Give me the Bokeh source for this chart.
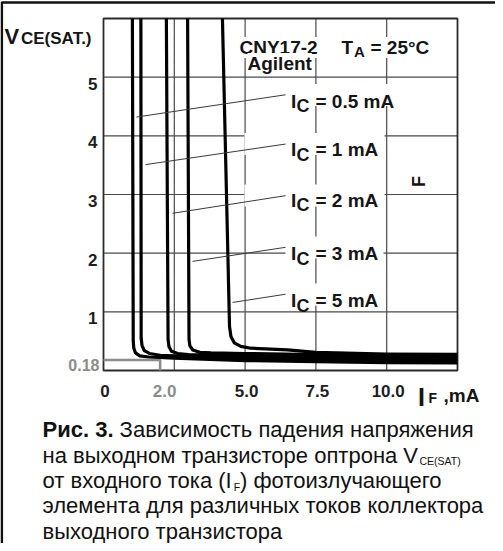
import glob
import struct
import math
from bokeh.plotting import figure
from bokeh.models import Range1d, Label
from bokeh.core.properties import value
from bokeh.embed import file_html
from bokeh.resources import INLINE

# ---------------- data ----------------
ic_labels = ["0.5", "1", "2", "3", "5"]          # collector current, mA

if_c05 = [1.02, 1.05, 1.07, 1.13, 1.28, 1.60, 2.50, 5.00, 7.50, 10.0, 12.5]
v_c05 = [6.00, 0.50, 0.38, 0.30, 0.25, 0.23, 0.21, 0.17, 0.15, 0.135, 0.13]

if_c1 = [1.32, 1.33, 1.36, 1.44, 1.62, 2.00, 3.00, 5.00, 7.50, 10.0, 12.5]
v_c1 = [6.00, 0.55, 0.43, 0.34, 0.29, 0.26, 0.24, 0.21, 0.19, 0.17, 0.165]

if_c2 = [2.22, 2.28, 2.31, 2.40, 2.62, 3.00, 5.00, 7.50, 10.0, 12.5]
v_c2 = [6.00, 0.53, 0.41, 0.33, 0.29, 0.27, 0.25, 0.23, 0.21, 0.20]

if_c3 = [2.97, 3.02, 3.05, 3.15, 3.40, 3.80, 5.00, 7.50, 10.0, 12.5]
v_c3 = [6.00, 0.53, 0.42, 0.35, 0.31, 0.30, 0.29, 0.27, 0.25, 0.24]

if_c5 = [4.20, 4.45, 4.50, 4.62, 4.85, 5.20, 6.50, 7.50, 10.0, 12.5]
v_c5 = [6.00, 0.75, 0.58, 0.47, 0.41, 0.38, 0.35, 0.31, 0.28, 0.275]

# leader lines: point on curve -> label anchor
leader_if0 = [1.165, 1.49, 2.44, 3.14, 4.555]
leader_v0 = [4.32, 3.51, 2.68, 1.86, 1.16]
leader_if1 = [6.43, 6.43, 6.43, 6.43, 6.43]
leader_v1 = [4.70, 3.86, 2.98, 2.10, 1.30]

x_min, x_max = 0.0, 12.5
y_min, y_max = 0.0, 6.0
y_tick_vals = [1, 2, 3, 4, 5]
y_tick_text = ["1", "2", "3", "4", "5"]
x_tick_vals = [0, 5, 7.5, 10]
x_tick_text = ["0", "5.0", "7.5", "10.0"]
x_grid_vals = [2.5, 5, 7.5, 10]
y_grid_vals = [1, 2, 3, 4, 5]

sat_v = 0.18          # marked saturation voltage
sat_if = 2.0          # marked forward current
sat_v_text = "0.18"
sat_if_text = "2.0"

caption = [
    [("Рис. 3.", "b"), (" Зависимость падения напряжения", "r")],
    [("на выходном транзисторе оптрона V", "r"), ("CE(SAT)", "s")],
    [("от входного тока (I", "r"), ("F", "s"), (") фотоизлучающего", "r")],
    [("элемента для различных токов коллектора", "r")],
    [("выходного транзистора", "r")],
]

# ---------------- text metrics (Liberation Sans) ----------------
def make_width_fn(patterns):
    path = None
    for pat in patterns:
        found = glob.glob(pat, recursive=True)
        if found:
            path = found[0]
            break
    if path is None:
        return lambda s, size: 0.56 * size * len(s)
    try:
        data = open(path, "rb").read()
        ntab = struct.unpack(">H", data[4:6])[0]
        tabs = {}
        for i in range(ntab):
            tag, cs, off, ln = struct.unpack(">4sIII", data[12 + 16 * i:28 + 16 * i])
            tabs[tag.decode("latin1")] = off
        head = tabs["head"]
        upem = struct.unpack(">H", data[head + 18:head + 20])[0]
        hhea = tabs["hhea"]
        nhm = struct.unpack(">H", data[hhea + 34:hhea + 36])[0]
        hm = tabs["hmtx"]
        adv = [struct.unpack(">H", data[hm + 4 * i:hm + 4 * i + 2])[0] for i in range(nhm)]
        cm = tabs["cmap"]
        n = struct.unpack(">H", data[cm + 2:cm + 4])[0]
        sub = None
        for i in range(n):
            pid, eid, off = struct.unpack(">HHI", data[cm + 4 + 8 * i:cm + 12 + 8 * i])
            fmt = struct.unpack(">H", data[cm + off:cm + off + 2])[0]
            if fmt == 4 and pid in (0, 3):
                sub = cm + off
                break
        segx2 = struct.unpack(">H", data[sub + 6:sub + 8])[0]
        seg = segx2 // 2
        ends = struct.unpack(">%dH" % seg, data[sub + 14:sub + 14 + segx2])
        starts = struct.unpack(">%dH" % seg, data[sub + 16 + segx2:sub + 16 + 2 * segx2])
        deltas = struct.unpack(">%dh" % seg, data[sub + 16 + 2 * segx2:sub + 16 + 3 * segx2])
        rpos = sub + 16 + 3 * segx2
        roffs = struct.unpack(">%dH" % seg, data[rpos:rpos + segx2])

        def gid(c):
            for i in range(seg):
                if ends[i] >= c:
                    if starts[i] > c:
                        return 0
                    if roffs[i] == 0:
                        return (c + deltas[i]) & 0xFFFF
                    addr = rpos + 2 * i + roffs[i] + 2 * (c - starts[i])
                    g = struct.unpack(">H", data[addr:addr + 2])[0]
                    return (g + deltas[i]) & 0xFFFF if g else 0
            return 0

        def width(s, size):
            tot = 0
            for ch in s:
                g = gid(ord(ch))
                tot += adv[min(g, nhm - 1)]
            return tot * size / upem
        return width
    except Exception:
        return lambda s, size: 0.56 * size * len(s)


w_reg = make_width_fn(["/usr/share/fonts/**/LiberationSans-Regular.ttf"])
w_bold = make_width_fn(["/usr/share/fonts/**/LiberationSans-Bold.ttf"])

# ---------------- layout (window pixels -> data) ----------------
OFF = 8                                    # page margin
W, H = 495, 543
X0, SX = 111.0, 354.0 / (x_max - x_min)    # window px of x=0, px per unit
Y0, SY = 378.0, 352.0 / (y_max - y_min)

def dx(wx):
    return (wx - X0) / SX

def dy(wy):
    return (Y0 - wy) / SY

FONT = "Liberation Sans"

p = figure(width=W, height=H,
           x_range=Range1d(dx(OFF), dx(OFF + W)), y_range=Range1d(dy(OFF + H), dy(OFF)),
           x_axis_type=None, y_axis_type=None, title=None,
           output_backend="svg", toolbar_location=None, min_border=0)
p.background_fill_color = "white"
p.border_fill_color = "white"
p.outline_line_color = None

# grid
GRID = "#4a4a4a"
p.segment(x0=x_grid_vals, y0=[y_min] * len(x_grid_vals), x1=x_grid_vals, y1=[y_max] * len(x_grid_vals),
          line_color=GRID, line_width=1.2)
p.segment(x0=[x_min] * len(y_grid_vals), y0=y_grid_vals, x1=[x_max] * len(y_grid_vals), y1=y_grid_vals,
          line_color=GRID, line_width=1.2)

# white masks behind the current labels (they cut the grid lines)
row_wy = [102.5, 151.5, 203.0, 255.0, 302.0]
mask_left_px = [293, 252, 252, 293, 293]
mask_right_px = [406, 392, 392, 391, 391]
p.quad(left=[dx(v) for v in mask_left_px], right=[dx(v) for v in mask_right_px],
       top=[dy(v - 11) for v in row_wy], bottom=[dy(v + 11) for v in row_wy],
       fill_color="white", line_color=None)

# plot frame
p.quad(left=[x_min], right=[x_max], bottom=[y_min], top=[y_max],
       fill_color=None, line_color="#2b2b2b", line_width=1.8)

# grey marker of the 0.18 V / 2.0 mA point
p.line([x_min, sat_if, sat_if], [sat_v, sat_v, y_min], line_color="#8c8c8c", line_width=2.6)

# curves
for xs, ys in [(if_c05, v_c05), (if_c1, v_c1), (if_c2, v_c2), (if_c3, v_c3), (if_c5, v_c5)]:
    p.line(xs, ys, line_color="black", line_width=3.2, line_join="round")

# leader lines
p.segment(x0=leader_if0, y0=leader_v0, x1=leader_if1, y1=leader_v1,
          line_color="#3a3a3a", line_width=1.0)

# tick labels
p.text(x=[x_min] * len(y_tick_vals), y=y_tick_vals, text=y_tick_text,
       x_offset=-6, y_offset=6.5, text_align="right", text_baseline="alphabetic",
       text_font=value(FONT), text_font_style="bold", text_font_size="17px",
       text_color="#1e1e1e")
p.text(x=x_tick_vals, y=[y_min] * len(x_tick_vals), text=x_tick_text,
       x_offset=1.5, y_offset=20, text_align="center", text_baseline="alphabetic",
       text_font=value(FONT), text_font_style="bold", text_font_size="17px",
       text_color="#1e1e1e")
p.text(x=[x_min], y=[sat_v], text=[sat_v_text], x_offset=-4, y_offset=4.8,
       text_align="right", text_baseline="alphabetic",
       text_font=value(FONT), text_font_style="bold", text_font_size="16px",
       text_color="#8c8c8c")
p.text(x=[sat_if], y=[y_min], text=[sat_if_text], x_offset=4.5, y_offset=20,
       text_align="center", text_baseline="alphabetic",
       text_font=value(FONT), text_font_style="bold", text_font_size="17px",
       text_color="#8c8c8c")


def txt(s, wx, wy, size, bold=True, color="#151515", align="left",
        baseline="alphabetic", angle=0.0, bg=None):
    p.add_layout(Label(x=dx(wx), y=dy(wy), text=s, text_font=FONT,
                       text_font_size="%gpx" % size,
                       text_font_style="bold" if bold else "normal",
                       text_color=color, text_align=align, text_baseline=baseline,
                       angle=angle, background_fill_color=bg))


# current labels  I_C = ... mA
row_base = [108.5, 157.0, 207.5, 261.0, 308.0]
for lab, b in zip(ic_labels, row_base):
    txt("I", 298.5, b, 19)
    txt("C", 304.0, b + 5, 18)
    txt("= %s mA" % lab, 323.0, b, 19)

# header texts
txt("CNY17-2", 247, 55, 19, bg="white")
txt("Agilent", 255, 71, 19, bg="white")
txt("T", 349, 55, 19, bg="white")
txt("A", 361.5, 58.5, 15, bg="white")
txt("= 25°C", 378, 55, 19, bg="white")

# stray rotated letter in the original drawing
txt("F", 426, 189, 18, align="center", baseline="middle", angle=math.pi / 2)

# axis titles
txt("V", 12, 43.5, 22)
txt("CE(SAT.)", 28.5, 46, 17)
txt("I", 425.5, 404.5, 25)
txt("F", 436, 405, 14)
txt(",mA", 451, 402.5, 19)

# caption
CAP = 22
SUB = 10.5
cap_base = [437.0, 462.5, 488.0, 513.0, 538.5]
for runs, b in zip(caption, cap_base):
    x = 50.0
    for s, st in runs:
        if st == "s":
            txt(s, x + 0.5, b + 6, SUB, bold=False, color="#111")
            x += w_reg(s, SUB) + 0.5
            continue
        wf = w_bold if st == "b" else w_reg
        lead = len(s) - len(s.lstrip(" "))
        x += wf(" " * lead, CAP)
        body = s.lstrip(" ")
        txt(body, x, b, CAP, bold=(st == "b"), color="#111")
        x += wf(body, CAP)

# outer picture frame (top and left edges)
p.line([dx(OFF + W), dx(9.3), dx(9.3)], [dy(10), dy(10), dy(OFF + H)],
       line_color="#111", line_width=2.6)

open("out.html", "w").write(file_html(p, INLINE))
